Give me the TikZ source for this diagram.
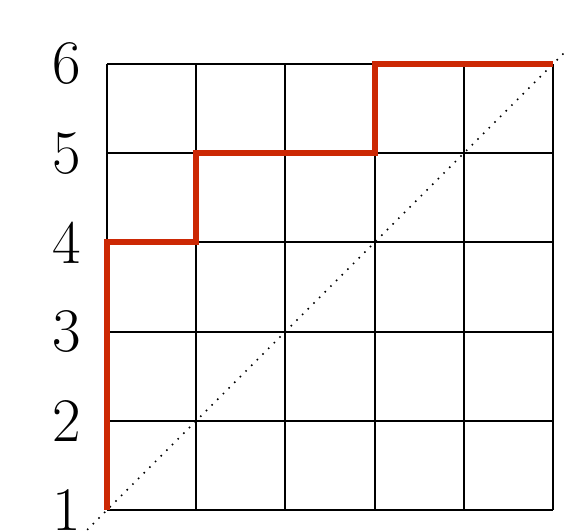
\documentclass[tikz,border=0pt]{standalone}
\definecolor{pathred}{RGB}{204,40,4}
\begin{document}
\begin{tikzpicture}[x=89.2pt,y=89.2pt,
  gridline/.style={line width=2pt,black},
  redpath/.style={line width=6pt,pathred,line join=miter},
  diag/.style={line width=2.2pt,line cap=round,dash pattern=on 0pt off 8pt},
  lab/.style={font=\fontsize{62}{62}\selectfont,inner sep=0pt,anchor=center}]
\useasboundingbox (-107pt,-21pt) rectangle (460pt,510pt);
\draw[gridline,step=89.2pt] (0,0) grid (5,5);
\draw[diag] (-0.28,-0.28) -- (5.14,5.14);
\draw[redpath] (0,0) -- (0,3) -- (1,3) -- (1,4) -- (3,4) -- (3,5) -- (5,5);
\foreach \i/\n in {0/1,1/2,2/3,3/4,4/5,5/6}
  \node[lab] (l\n) at (-40pt,\i) {\n};
\end{tikzpicture}
\end{document}
